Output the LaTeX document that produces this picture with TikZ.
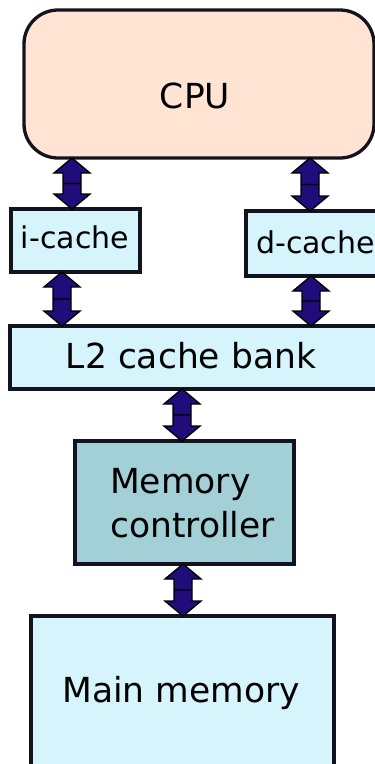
\documentclass[tikz,border=0pt]{standalone}
\usepackage{fontspec}
\setmainfont{DejaVu Sans}
\usetikzlibrary{calc}
\definecolor{cpufill}{RGB}{255,228,212}
\definecolor{cachefill}{RGB}{213,244,252}
\definecolor{mcfill}{RGB}{163,207,215}
\definecolor{busfill}{RGB}{32,12,122}
\definecolor{edge}{RGB}{20,18,30}
\tikzset{
  unit/.style={draw=edge, line width=3.3pt, inner sep=0pt, outer sep=0pt},
  caption/.style={inner sep=0pt, anchor=base, font=\fontsize{34.5}{44}\selectfont},
  smallcaption/.style={inner sep=0pt, anchor=base, font=\fontsize{30}{36}\selectfont},
  % double-headed block arrow running straight down from start to target
  bus/.style={draw=black, fill=busfill, line width=1.4pt, line join=miter,
    to path={let \p1=(\tikztostart), \p2=(\tikztotarget) in
      (\x1,\y1) -- (\x1+18pt,\y1-15pt) -- (\x1+9pt,\y1-15pt)
      -- (\x1+9pt,\y2+15pt) -- (\x1+18pt,\y2+15pt) -- (\x1,\y2)
      -- (\x1-18pt,\y2+15pt) -- (\x1-9pt,\y2+15pt)
      -- (\x1-9pt,\y1-15pt) -- (\x1-18pt,\y1-15pt) -- cycle
      (\x1-9pt,{(\y1+\y2)/2}) -- (\x1+9pt,{(\y1+\y2)/2})}},
}
\begin{document}
\begin{tikzpicture}[x=1pt, y=-1pt]
\useasboundingbox (0,0) rectangle (375,764);
\begin{scope}
\clip (0,0) rectangle (375,764);

% units
\node[unit, fill=cpufill, rounded corners=34pt, minimum width=350pt, minimum height=148pt,
      anchor=north west] (cpu) at (24,10) {};
\node[unit, fill=cachefill, minimum width=129pt, minimum height=63pt,
      anchor=north west] (icache) at (11,209) {};
\node[unit, fill=cachefill, minimum width=140pt, minimum height=65pt,
      anchor=north west] (dcache) at (246,211) {};
\node[unit, fill=cachefill, minimum width=380pt, minimum height=63pt,
      anchor=north west] (l2) at (10,326) {};
\node[unit, fill=mcfill, minimum width=219pt, minimum height=123pt,
      anchor=north west] (mc) at (75,441) {};
\node[unit, fill=cachefill, minimum width=303pt, minimum height=170pt,
      anchor=north west] (mem) at (31,616) {};

% captions
\node[caption] (cputxt) at (195,108) {CPU};
\node[smallcaption] (itxt) at (75,248) {i-cache};
\node[smallcaption, anchor=base west] (dtxt) at (256,253) {d-cache};
\node[caption] (l2txt) at (191,368) {L2 cache bank};
\node[caption, anchor=base west] (mctxt1) at (110,493) {Memory};
\node[caption, anchor=base west] (mctxt2) at (110,537) {controller};
\node[caption] (memtxt) at (181,702) {Main memory};

% bus guides
\coordinate (g1) at (72,0);
\coordinate (g2) at (310,0);
\coordinate (g3) at (62,0);
\coordinate (g4) at (311,0);
\coordinate (g5) at (182,0);
\coordinate (g6) at (183,0);

% buses
\draw[bus] (cpu.south -| g1) to (icache.north -| g1);
\draw[bus] (cpu.south -| g2) to (dcache.north -| g2);
\draw[bus] (icache.south -| g3) to (l2.north -| g3);
\draw[bus] (dcache.south -| g4) to (l2.north -| g4);
\draw[bus] (l2.south -| g5) to (mc.north -| g5);
\draw[bus] (mc.south -| g6) to (mem.north -| g6);
\end{scope}
\end{tikzpicture}
\end{document}
